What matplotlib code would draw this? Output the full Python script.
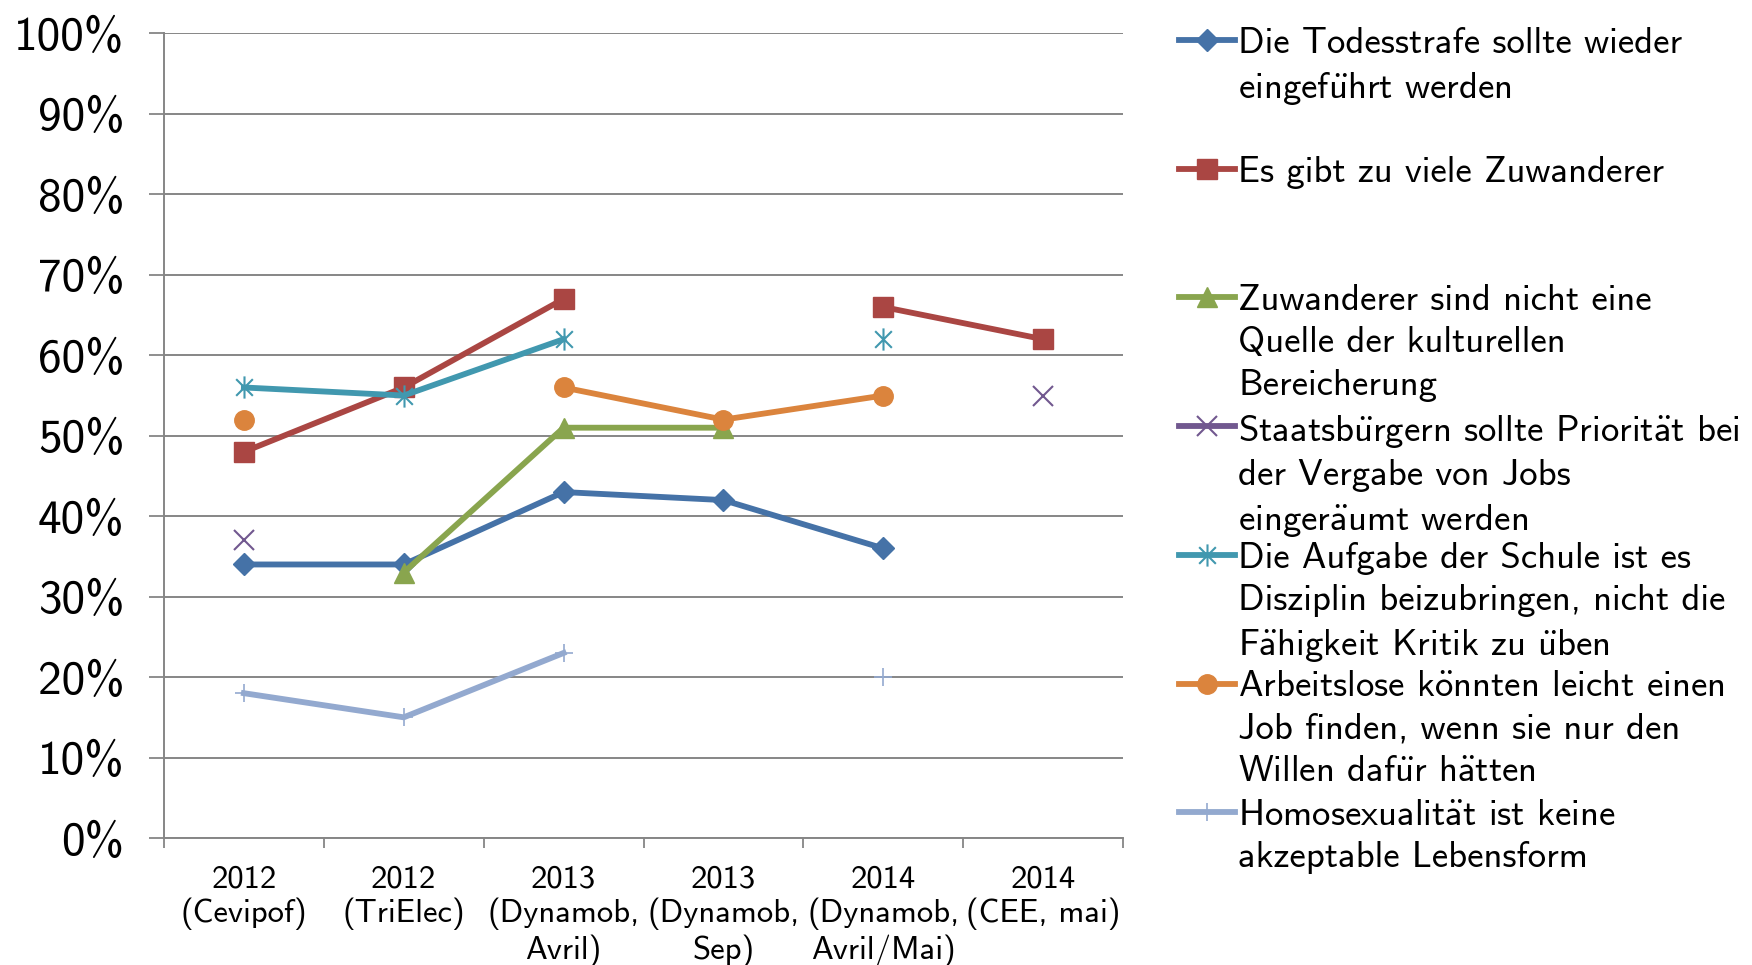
import numpy as np
import matplotlib
matplotlib.use("Agg")
from matplotlib import pyplot as plt
from matplotlib.lines import Line2D
from matplotlib.path import Path

plt.rcParams['font.family'] = ['cmss10', 'DejaVu Sans']
plt.rcParams['mathtext.fontset'] = 'cm'
plt.rcParams['axes.unicode_minus'] = False

nan = np.nan

categories = ["2012\n(Cevipof)", "2012\n(TriElec)", "2013\n(Dynamob,\nAvril)",
              "2013\n(Dynamob,\nSep)", "2014\n(Dynamob,\nAvril/Mai)", "2014\n(CEE, mai)"]

todesstrafe = [34, 34, 43, 42, 36, nan]
zuwanderer = [48, 56, 67, nan, 66, 62]
quelle = [nan, 33, 51, 51, nan, nan]
staatsbuerger = [37, nan, nan, nan, nan, 55]
schule = [56, 55, 62, nan, 62, nan]
arbeitslose = [52, nan, 56, 52, 55, nan]
homosexualitaet = [18, 15, 23, nan, 20, nan]

labels = [
    "Die Todesstrafe sollte wieder\neingeführt werden",
    "Es gibt zu viele Zuwanderer",
    "Zuwanderer sind nicht eine\nQuelle der kulturellen\nBereicherung",
    "Staatsbürgern sollte Priorität bei\nder Vergabe von Jobs\neingeräumt werden",
    "Die Aufgabe der Schule ist es\nDisziplin beizubringen, nicht die\nFähigkeit Kritik zu üben",
    "Arbeitslose könnten leicht einen\nJob finden, wenn sie nur den\nWillen dafür hätten",
    "Homosexualität ist keine\nakzeptable Lebensform",
]

yticks = [0, 10, 20, 30, 40, 50, 60, 70, 80, 90, 100]
ytick_labels = ["0%", "10%", "20%", "30%", "40%", "50%", "60%", "70%", "80%", "90%", "100%"]


def umlaut(s):
    # cmss10 has no umlauts, build them with mathtext accents in the same face
    for ch, base in zip("äöüÄÖÜ", "aouAOU"):
        s = s.replace(ch, r"$\mathsf{\ddot{%s}}$" % base)
    return s


# asterisk marker like the excel "star"
star = Path([(0, -1), (0, 1), (-0.75, -0.75), (0.75, 0.75), (-0.75, 0.75), (0.75, -0.75)],
            [Path.MOVETO, Path.LINETO, Path.MOVETO, Path.LINETO, Path.MOVETO, Path.LINETO])

series = [todesstrafe, zuwanderer, quelle, staatsbuerger, schule, arbeitslose, homosexualitaet]
colors = ["#4572A7", "#AA4643", "#89A54E", "#71588F", "#4198AF", "#DB843D", "#93A9CF"]
markers = ["D", "s", "^", "x", star, "o", "+"]
msizes = [11, 14, 14, 14, 16, 14, 13]
mews = [1, 1, 1, 1.5, 1.5, 1, 1.2]

fig = plt.figure(figsize=(17.52, 9.65), dpi=100)
ax = fig.add_axes([0.0936, 0.1316, 0.5474, 0.8337])

x = np.arange(len(categories))
for vals, c, m, ms, mew in zip(series, colors, markers, msizes, mews):
    ax.plot(x, vals, color=c, lw=4.2, marker=m, markersize=ms, markeredgewidth=mew,
            markerfacecolor=c, markeredgecolor=c, solid_joinstyle='round')

ax.set_xlim(-0.5, len(categories) - 0.5)
ax.set_ylim(0, 100)
ax.set_yticks(yticks)
ax.set_yticklabels(ytick_labels, fontsize=34)
ax.set_xticks(x)
ax.set_xticklabels(categories, fontsize=23.5, linespacing=1.17)
ax.set_xticks(np.arange(len(categories) + 1) - 0.5, minor=True)
ax.tick_params(axis='x', which='major', length=0, pad=19)
ax.tick_params(axis='x', which='minor', length=7, width=1.3, color="#868686")
ax.tick_params(axis='y', length=10.5, width=1.3, color="#868686", pad=18)
ax.grid(axis='y', color="#868686", lw=1.4)
ax.set_axisbelow(True)
for s in ["top", "right"]:
    ax.spines[s].set_visible(False)
for s in ["left", "bottom"]:
    ax.spines[s].set_color("#868686")
    ax.spines[s].set_linewidth(1.4)

# legend, one entry every three lines like in excel
W, H = 1752, 965
for i, (lab, c, m, ms, mew) in enumerate(zip(labels, colors, markers, msizes, mews)):
    yc = 40 + 128.7 * i
    fy = 1 - yc / H
    fig.add_artist(Line2D([1179 / W, 1235 / W], [fy, fy], transform=fig.transFigure,
                          color=c, lw=4.2))
    fig.add_artist(Line2D([1207 / W], [fy], transform=fig.transFigure, color=c, lw=0,
                          marker=m, markersize=ms, markeredgewidth=mew,
                          markerfacecolor=c, markeredgecolor=c))
    fig.text(1238 / W, 1 - (yc - 13) / H, umlaut(lab), fontsize=26.5, va='top', ha='left',
             linespacing=1.35, transform=fig.transFigure)

fig.savefig("out.png", dpi=100)
